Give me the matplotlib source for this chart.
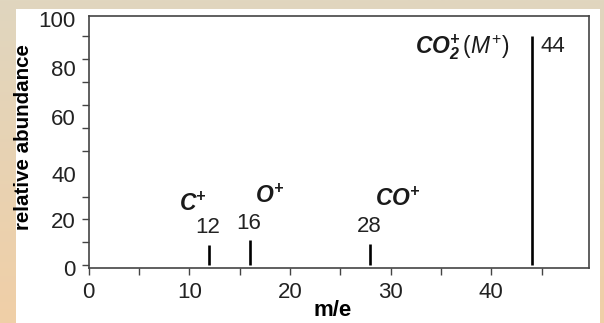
import numpy as np
import matplotlib
matplotlib.use("Agg")
import matplotlib.pyplot as plt
from matplotlib.ticker import MultipleLocator, FixedLocator
from matplotlib.patches import Rectangle

plt.rcParams['font.family'] = ['Liberation Sans', 'DejaVu Sans']
plt.rcParams['mathtext.fontset'] = 'custom'
plt.rcParams['mathtext.rm'] = 'Liberation Sans'
plt.rcParams['mathtext.it'] = 'Liberation Sans:italic'
plt.rcParams['mathtext.bf'] = 'Liberation Sans:italic:bold'

# ---- data ----
mz = [12, 16, 28, 44]
abundance = [9, 11, 9.5, 100]
peak_labels = ["12", "16", "28", "44"]
ion_labels = [r'$\mathbf{C}^{\mathbf{+}}$', r'$\mathbf{O}^{\mathbf{+}}$',
              r'$\mathbf{CO}^{\mathbf{+}}$',
              r'$\mathbf{CO}_{\mathbf{2}}^{\mathbf{+}}\,\mathit{(M^{+})}$']
xtick_values = [0, 10, 20, 30, 40, 50]
ytick_labels = ["0", "20", "40", "60", "80", "100"]

W, H = 604, 323
fig = plt.figure(figsize=(W / 100, H / 100), dpi=100)

# background gradient
bg = fig.add_axes([0, 0, 1, 1], zorder=-10)
top = np.array([224, 214, 191]) / 255
bot = np.array([240, 207, 167]) / 255
t = np.linspace(0, 1, 200)[:, None]
grad = top[None, :] * (1 - t) + bot[None, :] * t
bg.imshow(grad[:, None, :], aspect='auto', extent=[0, 1, 0, 1], origin='upper')
bg.set_xlim(0, 1); bg.set_ylim(0, 1)
bg.axis('off')
fig.patches.append(Rectangle((16 / W, 0), (600 - 16) / W, (H - 9) / H,
                             transform=fig.transFigure, facecolor='white',
                             edgecolor='none', zorder=-5))

ax = fig.add_axes([88.5 / W, (H - 268) / H, (589 - 88.5) / W, (268 - 16) / H])
ax.set_facecolor('none')
ax.set_xlim(0, 49.7)
ax.set_ylim(0, 108.9)

ax.vlines(mz, 0, abundance, colors='black', linewidth=1.9, zorder=3)

for x, y, lab in zip(mz[:3], abundance[:3], peak_labels[:3]):
    ax.annotate(lab, (x, y), xytext=(-1, 12), textcoords='offset points',
                ha='center', va='center', fontsize=16, color='#222222')
ax.annotate(peak_labels[3], (mz[3], abundance[3]), xytext=(15, -7),
            textcoords='offset points', ha='center', va='center',
            fontsize=16, color='#222222')

ion_pos = [(10.4, 26.5), (18.0, 30), (30.7, 29), (37.1, 95.5)]
for (x, y), lab in zip(ion_pos, ion_labels):
    ax.text(x, y, lab, ha='center', va='center', fontsize=16.5, color='#1a1a1a')

# ticks
ax.xaxis.set_major_locator(FixedLocator(xtick_values))
ax.xaxis.set_minor_locator(MultipleLocator(5))
ax.yaxis.set_minor_locator(MultipleLocator(10))
ytick_pos = [-1.2, 19.6, 40.0, 64.6, 86.2, 107.6]
ax.set_yticks(ytick_pos)
ax.set_yticklabels(ytick_labels)
ax.tick_params(axis='x', which='both', direction='out', length=5, width=1.0,
               color='#444444', labelsize=16, pad=5, labelcolor='#222222')
ax.tick_params(axis='y', which='minor', direction='out', length=5, width=1.0,
               color='#444444')
ax.tick_params(axis='y', which='major', length=0, labelsize=16, pad=9,
               labelcolor='#222222')
for s in ax.spines.values():
    s.set_color('#444444')
    s.set_linewidth(1.2)

ax.set_xlabel('m/e', fontsize=16, fontweight='bold')
ax.xaxis.set_label_coords(0.488, -0.127)
ax.set_ylabel('relative abundance', fontsize=14.8, fontweight='bold')
ax.yaxis.set_label_coords(-0.111, 0.52)

fig.savefig('out.png', dpi=100)
